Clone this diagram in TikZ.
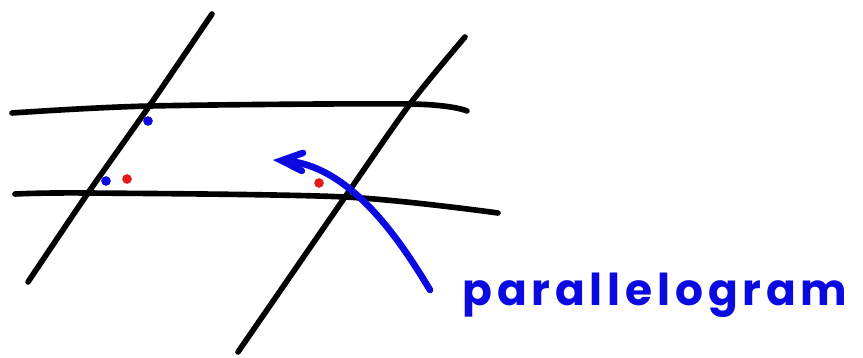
\documentclass[tikz,border=0pt]{standalone}
\usepackage{fontspec}
\usetikzlibrary{arrows.meta}
\newfontfamily\handfont[LetterSpace=11]{Poppins}
\definecolor{penblue}{RGB}{10,10,225}
\definecolor{penred}{RGB}{230,25,25}

\begin{document}
\begin{tikzpicture}[
    x=0.02cm, y=-0.02cm,
    blackpen/.style = {draw=black, line width=3.2pt, line cap=round},
    bluepen/.style  = {draw=penblue, line width=3.8pt, line cap=round,
                       -{Straight Barb[length=0.42cm, width=0.36cm, line cap=round]}},
    dotn/.style     = {circle, inner sep=0pt, minimum size=5.5pt},
    labeln/.style   = {text=penblue, font=\handfont\bfseries\fontsize{25}{28}\selectfont,
                       inner sep=0pt, anchor=base west}]

    \useasboundingbox (0,0) rectangle (863,358);

    % Two crossing pairs of lines
    \draw[blackpen] plot[smooth] coordinates {(12,113) (150,106) (410,104) (467,111)};
    \draw[blackpen] plot[smooth] coordinates {(15,194) (88,193) (345,197) (498,213)};
    \draw[blackpen] plot[smooth] coordinates {(212,14) (150,105) (88,193) (28,282)};
    \draw[blackpen] plot[smooth] coordinates {(465,37) (410,104) (345,197) (238,352)};

    % Angle marks
    \node[dotn, fill=penblue] (b1) at (148,121) {};
    \node[dotn, fill=penblue] (b2) at (106,181) {};
    \node[dotn, fill=penred]  (r1) at (127,179) {};
    \node[dotn, fill=penred]  (r2) at (319,183) {};

    % Label and pointer
    \node[labeln] (lbl) at (462,305) {parallelogram};
    \coordinate (tail) at (430,290);
    \coordinate (tip)  at (273,160);
    \draw[bluepen] (tail) .. controls (400,240) and (350,165) .. (tip);
\end{tikzpicture}
\end{document}
